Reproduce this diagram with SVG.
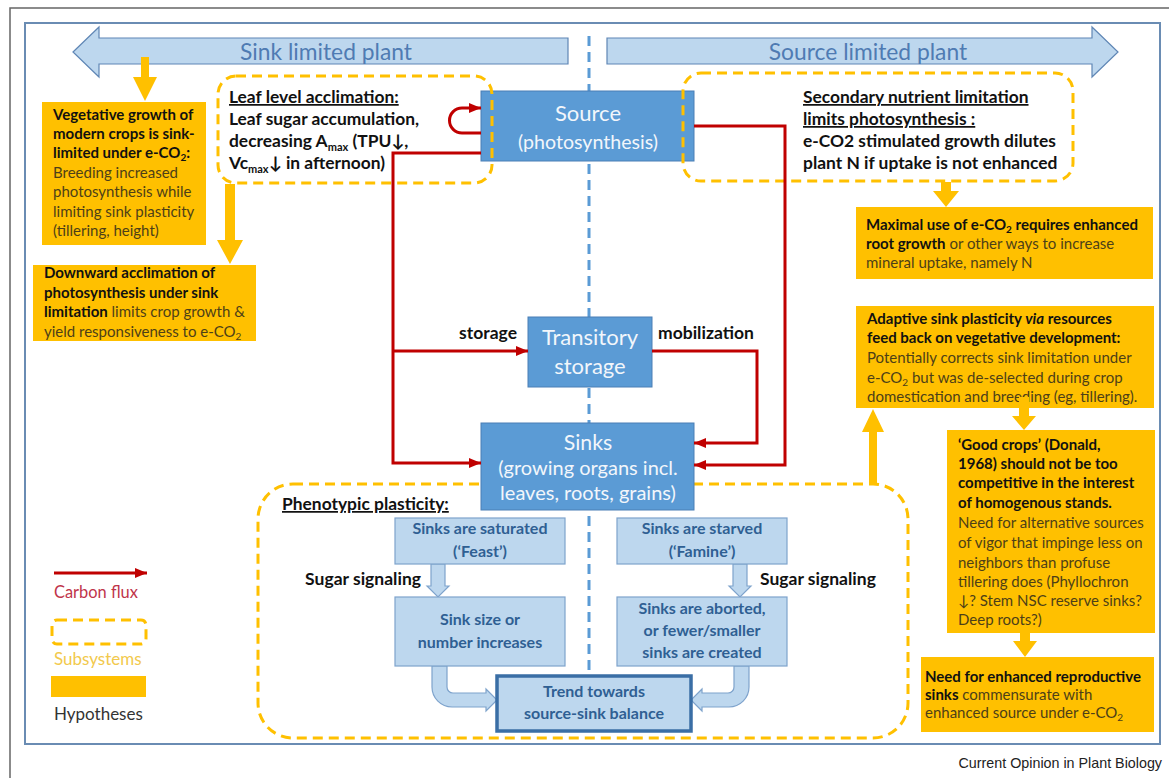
<svg xmlns="http://www.w3.org/2000/svg" width="1169" height="778" viewBox="0 0 1169 778">
<defs>
<marker id="ra" viewBox="0 0 12 10" refX="12" refY="5" markerWidth="12" markerHeight="10" markerUnits="userSpaceOnUse" orient="auto"><path d="M0,0 L12,5 L0,10 Z" fill="#c00000"/></marker>
<style>
text{font-family:Lato,'Liberation Sans',sans-serif}
.frame{fill:#fff;stroke:#666;stroke-width:1.5}
.inner{fill:#fff;stroke:#6a8cb3;stroke-width:2}
.bigarrow{fill:#bdd7ee;stroke:#5f86b5;stroke-width:1.2}
.toptxt{font-size:22.8px;fill:#4f7bb3}
.blue{fill:#5b9bd5;stroke:#4a7fb5;stroke-width:1}
.wt{fill:#f2f6fb;text-anchor:middle}
.lb{fill:#bdd7ee;stroke:#7ea3cc;stroke-width:1.2}
.lbt{fill:#2f5f93;font-weight:bold;font-size:16px;text-anchor:middle}
.dash{fill:none;stroke:#ffc000;stroke-width:3;stroke-dasharray:10 6}
.vdash{stroke:#5b9bd5;stroke-width:3;stroke-dasharray:10 6}
.red{fill:none;stroke:#c00000;stroke-width:3}
.hyp{fill:#ffc000}
.ht{font-size:15px;fill:#4d3f18}
.hb{font-weight:bold;fill:#111}
.bk{font-weight:bold;fill:#111;font-size:17.4px}
.lab{font-weight:bold;fill:#111;font-size:17.5px}
.harrow{fill:#ffc000}
</style>
</defs>
<rect class="frame" x="10" y="8" width="1170" height="790"/>
<rect class="inner" x="25" y="23" width="1135" height="721"/>

<g id="sink-limited-arrow">
<path class="bigarrow" d="M73,52 L99,27 V38 H568 V64 H99 V77 Z"/>
<text class="toptxt" x="326" y="60" text-anchor="middle">Sink limited plant</text>
</g>
<g id="source-limited-arrow">
<path class="bigarrow" d="M607,38 H1092 V27 L1118,52 L1092,77 V64 H607 Z"/>
<text class="toptxt" x="868" y="60" text-anchor="middle">Source limited plant</text>
</g>

<line class="vdash" x1="589" y1="36" x2="589" y2="676"/>

<g id="source">
<rect class="blue" x="481" y="91" width="213" height="70"/>
<text class="wt" x="588" y="121" font-size="22">Source</text>
<text class="wt" x="588" y="149" font-size="19.6">(photosynthesis)</text>
</g>
<g id="transitory-storage">
<rect class="blue" x="528" y="317" width="124" height="70"/>
<text class="wt" x="590" y="345" font-size="22">Transitory</text>
<text class="wt" x="590" y="374" font-size="22">storage</text>
</g>

<g id="phenotypic-plasticity">
<rect class="dash" x="258" y="484" width="650" height="254" rx="35"/>
<text class="bk" x="282" y="510" text-decoration="underline">Phenotypic plasticity:</text>
</g>

<g id="sinks">
<rect class="blue" x="481" y="423" width="213" height="87"/>
<text class="wt" x="588" y="450" font-size="21.3">Sinks</text>
<text class="wt" x="588" y="475" font-size="20">(growing organs incl.</text>
<text class="wt" x="588" y="500" font-size="20">leaves, roots, grains)</text>
</g>

<g id="leaf-level">
<rect class="dash" x="218" y="76" width="274" height="107" rx="18"/>
<text class="bk" x="229" y="103" text-decoration="underline">Leaf level acclimation:</text>
<text class="bk" x="229" y="125">Leaf sugar accumulation,</text>
<text class="bk" x="229" y="147">decreasing A<tspan font-size="11" dy="4">max</tspan><tspan dy="-4"> (TPU↓,</tspan></text>
<text class="bk" x="229" y="169">Vc<tspan font-size="11" dy="4">max</tspan><tspan dy="-4">↓ in afternoon)</tspan></text>
</g>

<g id="secondary-nutrient">
<rect class="dash" x="683" y="73" width="390" height="108" rx="18"/>
<text class="bk" x="803" y="103" text-decoration="underline">Secondary nutrient limitation </text>
<text class="bk" x="803" y="125" text-decoration="underline">limits photosynthesis :</text>
<text class="bk" x="803" y="147">e-CO2 stimulated growth dilutes</text>
<text class="bk" x="803" y="169">plant N if uptake is not enhanced</text>
</g>

<g id="connectors">
<path class="red" d="M481,133 H462 A12.5,12.5 0 0 1 462,108 H481" marker-end="url(#ra)"/>
<path class="red" d="M481,153 H393 V463 H481" marker-end="url(#ra)"/>
<path class="red" d="M393,351 H528" marker-end="url(#ra)"/>
<path class="red" d="M694,126 H785 V465 H694" marker-end="url(#ra)"/>
<path class="red" d="M652,351 H757 V443 H694" marker-end="url(#ra)"/>
<path class="harrow" d="M141,57 V77 H133 L145,101 L157,77 H149 V57 Z"/>
<path class="harrow" d="M225,184 V240 H217 L230,264 L243,240 H235 V184 Z"/>
<path class="harrow" d="M941,182 V191 H933 L946,207 L959,191 H951 V182 Z"/>
<path class="harrow" d="M869,485 V432 H862 L873,409 L884,432 H877 V485 Z"/>
<path class="lb" d="M431,564 V586 H427 L438,597 L449,586 H445 V564 Z"/>
<path class="lb" d="M733,564 V586 H729 L740,597 L751,586 H747 V564 Z"/>
<path class="lb" d="M432,666 V687 A20,20 0 0 0 452,707 H486 V711 L497,700 L486,689 V693 H453 A6,6 0 0 1 447,687 V666 Z"/>
<path class="lb" d="M749,666 V687 A20,20 0 0 1 729,707 H702 V711 L691,700 L702,689 V693 H728 A6,6 0 0 0 734,687 V666 Z"/>
</g>

<text class="lab" x="517" y="339" text-anchor="end">storage</text>
<text class="lab" x="658" y="339">mobilization</text>

<g id="feast">
<rect class="lb" x="395" y="518" width="170" height="46"/>
<text class="lbt" x="480" y="534">Sinks are saturated</text>
<text class="lbt" x="480" y="557">(‘Feast’)</text>
</g>
<g id="famine">
<rect class="lb" x="617" y="518" width="170" height="46"/>
<text class="lbt" x="702" y="534">Sinks are starved</text>
<text class="lbt" x="702" y="557">(‘Famine’)</text>
</g>
<text class="lab" x="421" y="585" text-anchor="end">Sugar signaling</text>
<text class="lab" x="760" y="585">Sugar signaling</text>
<g id="sink-increase">
<rect class="lb" x="395" y="597" width="170" height="69"/>
<text class="lbt" x="480" y="625">Sink size or</text>
<text class="lbt" x="480" y="648">number increases</text>
</g>
<g id="sink-abort">
<rect class="lb" x="617" y="597" width="170" height="69"/>
<text class="lbt" x="702" y="614">Sinks are aborted,</text>
<text class="lbt" x="702" y="636">or fewer/smaller</text>
<text class="lbt" x="702" y="658">sinks are created</text>
</g>
<g id="trend">
<rect x="497" y="676" width="194" height="55" fill="#bdd7ee" stroke="#3a6ea5" stroke-width="3.5"/>
<text class="lbt" x="594" y="697">Trend towards</text>
<text class="lbt" x="594" y="719">source-sink balance</text>
</g>

<g id="vegetative-growth">
<rect class="hyp" x="42" y="102" width="164" height="143"/>
<text class="ht hb" x="53" y="120">Vegetative growth of</text>
<text class="ht hb" x="53" y="139">modern crops is sink-</text>
<text class="ht hb" x="53" y="158">limited under e-CO<tspan font-size="10" dy="3">2</tspan><tspan dy="-3">:</tspan></text>
<text class="ht" x="53" y="178">Breeding increased</text>
<text class="ht" x="53" y="197">photosynthesis while</text>
<text class="ht" x="53" y="217">limiting sink plasticity</text>
<text class="ht" x="53" y="236">(tillering, height)</text>
</g>

<g id="downward-acclimation">
<rect class="hyp" x="33" y="265" width="223" height="76"/>
<text class="ht hb" x="44" y="278">Downward acclimation of</text>
<text class="ht hb" x="44" y="298">photosynthesis under sink</text>
<text class="ht" x="44" y="317"><tspan class="hb">limitation</tspan> limits crop growth  &amp;</text>
<text class="ht" x="44" y="337">yield responsiveness to e-CO<tspan font-size="10" dy="3">2</tspan></text>
</g>

<g id="maximal-use">
<rect class="hyp" x="856" y="207" width="297" height="72"/>
<text class="ht hb" x="866" y="230">Maximal use of e-CO<tspan font-size="10" dy="3">2</tspan><tspan dy="-3"> requires enhanced</tspan></text>
<text class="ht" x="866" y="249"><tspan class="hb">root growth</tspan> or other ways to increase</text>
<text class="ht" x="866" y="268">mineral uptake, namely N</text>
</g>

<g id="adaptive-plasticity">
<rect class="hyp" x="856" y="306" width="298" height="102"/>
<text class="ht hb" x="867" y="324">Adaptive sink plasticity <tspan font-style="italic">via</tspan> resources</text>
<text class="ht hb" x="867" y="343">feed back on vegetative development:</text>
<text class="ht" x="867" y="363">Potentially corrects sink limitation under</text>
<text class="ht" x="867" y="383">e-CO<tspan font-size="10" dy="3">2</tspan><tspan dy="-3"> but was de-selected during crop</tspan></text>
<text class="ht" x="867" y="402">domestication and breeding (eg, tillering).</text>
</g>
<path class="harrow" d="M1019,397 V416 H1012 L1024,430 L1036,416 H1029 V397 Z"/>

<g id="good-crops">
<rect class="hyp" x="947" y="430" width="208" height="203"/>
<text class="ht hb" x="958" y="450">‘Good crops’ (Donald,</text>
<text class="ht hb" x="958" y="469">1968) should not be too</text>
<text class="ht hb" x="958" y="488">competitive in the interest</text>
<text class="ht hb" x="958" y="508">of homogenous stands.</text>
<text class="ht" x="958" y="528">Need for alternative sources</text>
<text class="ht" x="958" y="548">of vigor that impinge less on</text>
<text class="ht" x="958" y="568">neighbors than profuse</text>
<text class="ht" x="958" y="587">tillering does (Phyllochron</text>
<text class="ht" x="958" y="606">↓? Stem NSC reserve sinks?</text>
<text class="ht" x="958" y="625">Deep roots?)</text>
</g>
<path class="harrow" d="M1020,632 V641 H1013 L1025,657 L1037,641 H1030 V632 Z"/>

<g id="reproductive-sinks">
<rect class="hyp" x="921" y="657" width="233" height="75"/>
<text class="ht hb" x="925" y="682">Need for enhanced reproductive</text>
<text class="ht" x="925" y="700"><tspan class="hb">sinks</tspan> commensurate with</text>
<text class="ht" x="925" y="718">enhanced source under e-CO<tspan font-size="10" dy="3">2</tspan></text>
</g>

<g id="legend">
<line class="red" x1="54" y1="573" x2="147" y2="573" marker-end="url(#ra)"/>
<text x="54" y="598" font-size="16.4" fill="#c0344a">Carbon flux</text>
<rect class="dash" x="52" y="620" width="94" height="24" rx="5"/>
<text x="54" y="665" font-size="17" fill="#f2c94c">Subsystems</text>
<rect class="hyp" x="51" y="676" width="95" height="21"/>
<text x="54" y="720" font-size="17" fill="#333">Hypotheses</text>
</g>

<text x="1162" y="768" font-size="14.3" fill="#222" text-anchor="end" style="font-family:'Liberation Sans',Arial,sans-serif">Current Opinion in Plant Biology</text>
</svg>
